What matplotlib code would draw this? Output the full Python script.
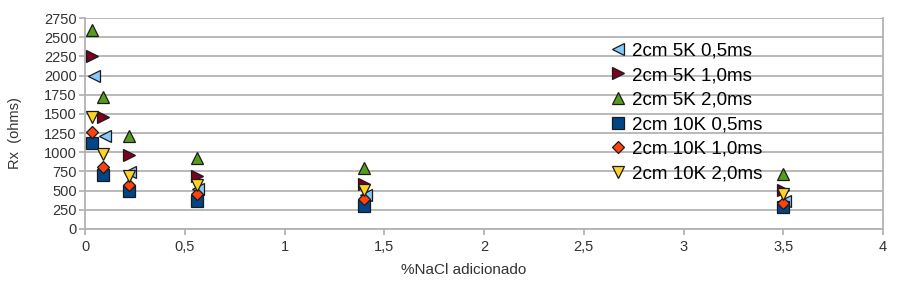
import matplotlib
matplotlib.use("Agg")
import matplotlib.pyplot as plt
from matplotlib.ticker import FuncFormatter, MultipleLocator

plt.rcParams['font.family'] = ['Liberation Sans', 'DejaVu Sans']

x_vals = [0.035, 0.09, 0.22, 0.56, 1.4, 3.5]
labels = ["2cm 5K 0,5ms", "2cm 5K 1,0ms", "2cm 5K 2,0ms",
          "2cm 10K 0,5ms", "2cm 10K 1,0ms", "2cm 10K 2,0ms"]
s5k_05 = [2000, 1210, 740, 520, 440, 370]
s5k_10 = [2260, 1460, 970, 690, 580, 505]
s5k_20 = [2590, 1720, 1210, 920, 790, 720]
s10k_05 = [1120, 710, 490, 360, 305, 290]
s10k_10 = [1270, 810, 570, 450, 390, 340]
s10k_20 = [1460, 980, 690, 570, 510, 460]

series = [s5k_05, s5k_10, s5k_20, s10k_05, s10k_10, s10k_20]
colors = ['#83CAFF', '#7E0021', '#579D1C', '#004586', '#FF420E', '#FFD320']
markers = ['<', '>', '^', 's', 'D', 'v']
msizes = [8.5, 8.5, 8.5, 8.5, 6.5, 8.5]
xoff = [0.008, 0, 0, 0, 0, 0]

fig = plt.figure(figsize=(8.97, 2.87), dpi=100)
ax = fig.add_axes([85/897, 1-229/287, 798/897, 211/287])

for ys, c, m, ms, lab, xo in zip(series, colors, markers, msizes, labels, xoff):
    ax.plot([x + xo for x in x_vals], ys, linestyle='none', marker=m, markersize=ms,
            markerfacecolor=c, markeredgecolor='#1a1a1a', markeredgewidth=0.9,
            label=lab, zorder=3, clip_on=False)

ax.set_xlim(0, 4)
ax.set_ylim(0, 2750)
ax.xaxis.set_major_locator(MultipleLocator(0.5))
ax.yaxis.set_major_locator(MultipleLocator(250))

def fmt(v, pos):
    s = ('%g' % v)
    return s.replace('.', ',')
ax.xaxis.set_major_formatter(FuncFormatter(fmt))
ax.yaxis.set_major_formatter(FuncFormatter(lambda v, p: '%d' % v))

ax.grid(axis='y', color='#b3b3b3', linewidth=1.3, zorder=0)
ax.set_axisbelow(True)
ax.spines['top'].set_visible(False)
for sp in ['left', 'bottom', 'right']:
    ax.spines[sp].set_color('#b3b3b3')
    ax.spines[sp].set_linewidth(1.3)

ax.tick_params(axis='both', colors='#b3b3b3', labelcolor='#333333', labelsize=10.5,
               length=4, width=1.3, direction='out')
ax.tick_params(axis='x', pad=4)
ax.tick_params(axis='y', pad=2)

ax.set_xlabel('%NaCl adicionado', fontsize=11, color='#333333')
ax.xaxis.set_label_coords((463.5 - 85) / 798, -(270 - 229) / 211)
ax.xaxis.label.set_va('center')
ax.set_ylabel('Rx  (ohms)', fontsize=10.5, color='#333333')
ax.yaxis.set_label_coords((15 - 85) / 798, (229 - 133) / 211)
ax.yaxis.label.set_va('center')

leg = ax.legend(loc='upper left', bbox_to_anchor=(0.656, 0.885), frameon=False,
                fontsize=13.5, handletextpad=0.25, labelspacing=0.40,
                handlelength=1.0, borderaxespad=0, borderpad=0)

fig.savefig('out.png', dpi=100)
